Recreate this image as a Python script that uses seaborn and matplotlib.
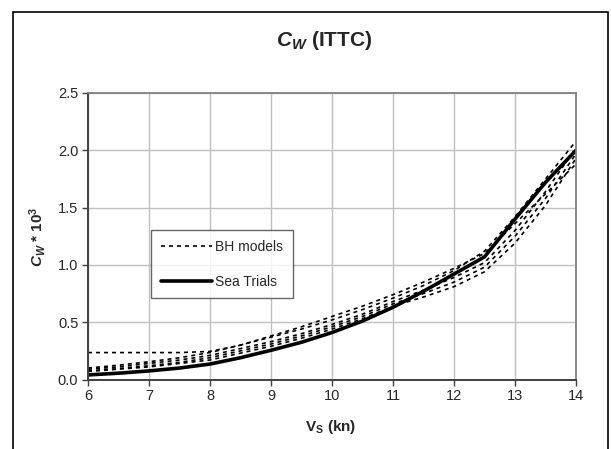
import matplotlib
matplotlib.use("Agg")
import matplotlib.pyplot as plt
from matplotlib.lines import Line2D
from matplotlib.patches import Rectangle
import seaborn as sns
import pandas as pd

# ---- data ----
speed = [6, 6.5, 7, 7.5, 8, 8.5, 9, 9.5, 10, 10.5, 11, 11.5, 12, 12.5, 13, 13.5, 14]
sea_trials = [0.04, 0.055, 0.075, 0.10, 0.135, 0.19, 0.255, 0.325, 0.41, 0.51,
              0.63, 0.77, 0.92, 1.07, 1.40, 1.72, 2.00]
bh_1 = [0.235, 0.235, 0.235, 0.235, 0.245, 0.30, 0.38, 0.46, 0.55, 0.64,
        0.74, 0.85, 0.97, 1.10, 1.36, 1.62, 1.88]
bh_2 = [0.10, 0.125, 0.155, 0.19, 0.235, 0.30, 0.37, 0.44, 0.52, 0.61,
        0.71, 0.82, 0.95, 1.12, 1.42, 1.75, 2.08]
bh_3 = [0.09, 0.11, 0.14, 0.17, 0.21, 0.27, 0.33, 0.40, 0.48, 0.57,
        0.68, 0.78, 0.89, 1.02, 1.30, 1.64, 2.02]
bh_4 = [0.075, 0.095, 0.12, 0.15, 0.19, 0.25, 0.31, 0.38, 0.46, 0.55,
        0.66, 0.75, 0.85, 0.98, 1.25, 1.58, 1.97]
bh_5 = [0.07, 0.09, 0.11, 0.14, 0.17, 0.23, 0.29, 0.36, 0.44, 0.53,
        0.64, 0.72, 0.81, 0.94, 1.19, 1.52, 1.93]
bh_models = [bh_1, bh_2, bh_3, bh_4, bh_5]
x_ticks = [6, 7, 8, 9, 10, 11, 12, 13, 14]
y_ticks = [0.0, 0.5, 1.0, 1.5, 2.0, 2.5]

sns.set_style("white")
plt.rcParams["font.family"] = ["Liberation Sans", "DejaVu Sans"]
plt.rcParams["mathtext.fontset"] = "custom"
plt.rcParams["mathtext.rm"] = "Liberation Sans:bold"
plt.rcParams["mathtext.it"] = "Liberation Sans:italic:bold"
plt.rcParams["mathtext.bf"] = "Liberation Sans:bold"

W, H = 611, 449
fig = plt.figure(figsize=(W / 100, H / 100), dpi=100)
ax = fig.add_axes([88 / W, 1 - 379.5 / H, (576 - 88) / W, (379.5 - 93) / H])

rows = []
for i, s in enumerate(bh_models):
    for xv, yv in zip(speed, s):
        rows.append({"speed": xv, "cw": yv, "model": f"BH{i+1}"})
df_bh = pd.DataFrame(rows)
df_sea = pd.DataFrame({"speed": speed, "cw": sea_trials})

dash = (0, (2.4, 2.4))
sns.lineplot(data=df_bh, x="speed", y="cw", units="model", estimator=None,
             color="black", lw=1.2, linestyle=dash, ax=ax, legend=False)
sns.lineplot(data=df_sea, x="speed", y="cw", color="black", lw=2.6,
             ax=ax, legend=False)

ax.set_xlim(6, 14)
ax.set_ylim(0, 2.5)
ax.set_xticks(x_ticks)
ax.set_yticks(y_ticks)
ax.set_yticklabels([f"{v:.1f}" for v in y_ticks])
ax.grid(True, color="#c0c0c0", lw=1.0)
ax.set_axisbelow(True)
for side in ["top", "right"]:
    ax.spines[side].set_visible(True)
    ax.spines[side].set_color("#808080")
    ax.spines[side].set_linewidth(1.3)
for side in ["left", "bottom"]:
    ax.spines[side].set_color("#404040")
    ax.spines[side].set_linewidth(1.4)
ax.tick_params(axis="both", direction="out", length=4, width=1.0,
               color="#404040", labelsize=10.5, pad=3, left=True, bottom=True)
ax.set_xlabel("")
ax.set_ylabel("")

fig.text(331 / W, 1 - 427 / H, r"V$_\mathrm{S}$ (kn)", ha="center", va="center",
         fontsize=11, fontweight="bold")
fig.text(38 / W, 1 - 237 / H, r"$C_W$ * 10$^3$", ha="center", va="center",
         rotation=90, fontsize=11, fontweight="bold")
fig.text(324 / W, 1 - 40 / H, r"$C_W$ (ITTC)", ha="center", va="center",
         fontsize=15, fontweight="bold")

handles = [Line2D([], [], color="black", lw=1.2, linestyle=dash),
           Line2D([], [], color="black", lw=2.6)]
leg = ax.legend(handles, ["BH models", "Sea Trials"], loc="upper left",
                bbox_to_anchor=((151 - 88) / 488, (379.5 - 230) / 286.5),
                frameon=True, fancybox=False, fontsize=10, handlelength=3.7,
                handletextpad=0.2, labelspacing=1.5, borderpad=0.7,
                borderaxespad=0)
leg.get_frame().set_edgecolor("#404040")
leg.get_frame().set_linewidth(1.0)

fig.patches.append(Rectangle((13 / W, -0.05), (608 - 13) / W, 1.05 - 12 / H,
                             transform=fig.transFigure, fill=False,
                             edgecolor="black", lw=1.2))

fig.savefig("out.png", dpi=100)
